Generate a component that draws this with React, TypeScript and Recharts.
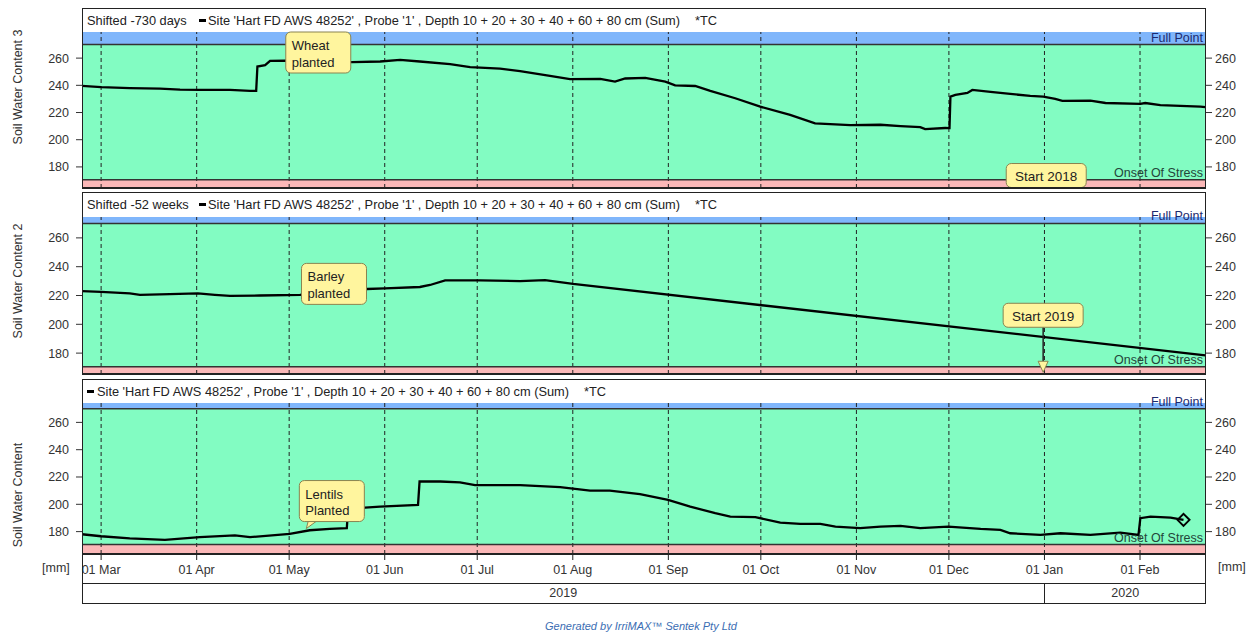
import React from "react";
import { LineChart, Line, XAxis, YAxis, ReferenceArea, ReferenceLine, ReferenceDot } from "recharts";

// days counted from 01 Mar 2019 (day 0)
const dayMin = -6.2;
const dayMax = 358.4;
const monthTicks = [0, 31, 61, 92, 122, 153, 184, 214, 245, 275, 306, 337];
const monthLabels = ["01 Mar", "01 Apr", "01 May", "01 Jun", "01 Jul", "01 Aug", "01 Sep", "01 Oct", "01 Nov", "01 Dec", "01 Jan", "01 Feb"];
const yearLabels = ["2019", "2020"];
const yearStart2020 = 306;
const yTicks = [180, 200, 220, 240, 260];
const fullPoint = 270;
const onsetStress = 170.5;

// Soil Water Content 3 (shifted -730 days)
const swc3Days = [-6.3, 0, 9.3, 19.1, 25.6, 32, 41.8, 48.3, 50.3, 50.7, 53.2, 54.8, 59.7, 81.4, 90.5, 97, 103.4, 113.2, 119.7, 129.4, 135.9, 145.6, 152.1, 161.9, 166.7, 170, 176.5, 183, 186.2, 192.7, 197.6, 205.7, 213.8, 223.5, 231.6, 243, 252.8, 259.3, 265.7, 267.3, 273.8, 275.2, 275.5, 277.1, 281, 282.6, 288.5, 294.9, 301.4, 305.6, 309.5, 311.8, 320.9, 325.8, 337.1, 338.7, 343.6, 356.6, 358.2];
const swc3Values = [239.6, 238.6, 237.9, 237.6, 236.8, 236.6, 236.6, 235.9, 235.9, 253.8, 254.8, 258, 258.2, 257, 257.5, 258.7, 257.5, 255.6, 253.4, 252.3, 250.4, 247, 244.5, 244.7, 242.7, 245, 245.5, 242.7, 240, 239.5, 235.9, 230.5, 224.3, 218.2, 212, 210.8, 211, 210, 209.3, 207.8, 208.6, 208.5, 231.7, 232.9, 234.4, 236.6, 235.1, 233.7, 232.2, 231.7, 230, 228.5, 228.7, 227, 226.3, 227, 225.5, 224.3, 224];

// Soil Water Content 2 (shifted -52 weeks)
const swc2Days = [-6.3, 0, 9.3, 12.6, 22.3, 31.4, 36.9, 41.8, 51.5, 64.5, 86.2, 92.1, 103.4, 106.7, 111.6, 122.9, 135.9, 144, 153.1, 358.2];
const swc2Values = [223, 222.5, 221.5, 220.5, 221, 221.5, 220.5, 219.7, 220, 220.5, 224.5, 225, 225.9, 227.3, 230.5, 230.5, 230, 230.7, 228, 178.5];

// Soil Water Content (current)
const swcDays = [-6.3, 0, 9.3, 20.7, 32, 43.4, 48.3, 61.2, 67.7, 74.2, 79.7, 80.1, 85.6, 90.5, 102.8, 103.3, 110, 116.4, 121.3, 135.9, 148.9, 158.6, 165, 174.8, 183.9, 191.1, 199.2, 204.1, 212.2, 220.3, 226.8, 233.3, 238.2, 246.2, 252.8, 259.3, 265.7, 274.8, 285.3, 291.7, 294.9, 304.7, 311.2, 320.9, 330.6, 336.5, 337.1, 340.4, 346.9, 351.1];
const swcValues = [178.1, 176.6, 175.1, 173.9, 175.9, 177.3, 175.9, 178.3, 181, 182, 182.5, 196, 197.6, 198.3, 199.6, 216.7, 216.7, 216, 214, 214, 212.6, 210, 210, 207.4, 203.3, 198.3, 193.5, 191, 190.6, 186.6, 185.6, 185.6, 183.6, 182.5, 183.7, 184.2, 182.5, 183.7, 182, 181.3, 178.8, 177.6, 178.8, 177.6, 179.3, 177.6, 189.8, 191, 190.3, 188.6];

const seriesName = "Site 'Hart FD AWS 48252' , Probe '1' , Depth 10 + 20 + 30 + 40 + 60 + 80 cm (Sum)";

const FONT = "'Liberation Sans', Arial, sans-serif";
const PLOT_LEFT = 82;
const PLOT_RIGHT = 1206;

const xOf = (d: number) => PLOT_LEFT + ((d - dayMin) / (dayMax - dayMin)) * (PLOT_RIGHT - PLOT_LEFT);

type CalloutSpec = { day: number; value: number; lines: string[]; kind: "two" | "one" | "arrow" | "pointer" };

function Callout({ cx, cy, spec }: { cx: number; cy: number; spec: CalloutSpec }) {
  const fill = "#fff59e";
  const stroke = "#8a8450";
  const two = spec.lines.length === 2;
  const w = two ? 65 : 80;
  const h = two ? 41 : 24;
  return (
    <g>
      {spec.kind === "arrow" && (
        <g>
          <line x1={cx + 40} y1={cy + h} x2={cx + 40} y2={cy + 58} stroke="#222" strokeWidth={1.5} />
          <polygon points={`${cx + 35},${cy + 58} ${cx + 45},${cy + 58} ${cx + 40},${cy + 69}`} fill={fill} stroke={stroke} />
        </g>
      )}
      {spec.kind === "pointer" && (
        <polygon points={`${cx + 9},${cy + h - 1} ${cx + 18},${cy + h - 1} ${cx + 7},${cy + 48}`} fill={fill} stroke={stroke} />
      )}
      <rect x={cx} y={cy} width={w} height={h} rx={5} ry={5} fill={fill} stroke={stroke} />
      {two
        ? spec.lines.map((t, i) => (
            <text key={i} x={cx + 6} y={cy + 13.5 + i * 16.6} dominantBaseline="central" fontSize={13} fill="#222" fontFamily={FONT}>
              {t}
            </text>
          ))
        : (
          <text x={cx + w / 2} y={cy + h / 2 + 1} textAnchor="middle" dominantBaseline="central" fontSize={13.5} fill="#222" fontFamily={FONT}>
            {spec.lines[0]}
          </text>
        )}
    </g>
  );
}

function Panel({
  days,
  values,
  yDomain,
  top,
  height,
  showXAxis,
  callouts,
  endMarker,
}: {
  days: number[];
  values: number[];
  yDomain: [number, number];
  top: number;
  height: number;
  showXAxis?: boolean;
  callouts: CalloutSpec[];
  endMarker?: boolean;
}) {
  const data = days.map((d, i) => ({ day: d, v: values[i] }));
  const last = data.length - 1;
  return (
    <div style={{ position: "absolute", left: 0, top, width: 1255, height }}>
      <LineChart width={1255} height={height} data={data} margin={{ top: 0, right: 0, bottom: 0, left: 0 }}>
        {showXAxis ? (
          <XAxis
            dataKey="day"
            type="number"
            domain={[dayMin, dayMax]}
            allowDataOverflow
            ticks={monthTicks}
            interval={0}
            tickFormatter={(v: number) => monthLabels[monthTicks.indexOf(v)]}
            height={height - 151}
            tickSize={6}
            tickMargin={5}
            axisLine={{ stroke: "#222", strokeWidth: 2 }}
            tickLine={{ stroke: "#222" }}
            tick={{ fontSize: 12.5, fill: "#333" }}
          />
        ) : (
          <XAxis dataKey="day" type="number" domain={[dayMin, dayMax]} allowDataOverflow hide />
        )}
        <YAxis
          yAxisId="l"
          orientation="left"
          width={PLOT_LEFT}
          domain={yDomain}
          allowDataOverflow
          ticks={yTicks}
          interval={0}
          tickSize={6}
          tickMargin={7}
          axisLine={false}
          tickLine={{ stroke: "#333" }}
          tick={{ fontSize: 12.5, fill: "#333" }}
        />
        <YAxis
          yAxisId="r"
          orientation="right"
          width={1255 - PLOT_RIGHT}
          domain={yDomain}
          allowDataOverflow
          ticks={yTicks}
          interval={0}
          tickSize={6}
          tickMargin={3}
          axisLine={false}
          tickLine={{ stroke: "#333" }}
          tick={{ fontSize: 12.5, fill: "#333" }}
        />
        <ReferenceArea yAxisId="l" y1={fullPoint} y2={yDomain[1]} fill="#80b6fb" fillOpacity={1} stroke="none" />
        <ReferenceArea yAxisId="l" y1={onsetStress} y2={fullPoint} fill="#82fcc2" fillOpacity={1} stroke="none" />
        <ReferenceArea yAxisId="l" y1={yDomain[0]} y2={onsetStress} fill="#fbb8b8" fillOpacity={1} stroke="none" />
        {monthTicks.map((t) => (
          <ReferenceLine key={t} yAxisId="l" x={t} stroke="#222" strokeDasharray="4 3" />
        ))}
        <ReferenceLine
          yAxisId="l"
          y={fullPoint}
          stroke="#333"
          strokeWidth={1.5}
          label={{ value: "Full Point", position: "insideBottomRight", offset: 3, fill: "#1c2a6e", fontSize: 12.5 }}
        />
        <ReferenceLine
          yAxisId="l"
          y={onsetStress}
          stroke="#333"
          strokeWidth={1.5}
          label={{ value: "Onset Of Stress", position: "insideBottomRight", offset: 3, fill: "#24463a", fontSize: 12.5 }}
        />
        <Line
          yAxisId="l"
          type="linear"
          dataKey="v"
          stroke="#000"
          strokeWidth={2.3}
          isAnimationActive={false}
          dot={(p: any) =>
            endMarker && p.index === last ? (
              <polygon
                key="end"
                points={`${p.cx - 6},${p.cy} ${p.cx},${p.cy - 6} ${p.cx + 6},${p.cy} ${p.cx},${p.cy + 6}`}
                fill="none"
                stroke="#000"
                strokeWidth={2}
              />
            ) : (
              <g key={p.index} />
            )
          }
          activeDot={false}
        />
        {callouts.map((c, i) => (
          <ReferenceDot
            key={i}
            yAxisId="l"
            x={c.day}
            y={c.value}
            r={0}
            ifOverflow="visible"
            shape={(p: any) => <Callout cx={p.cx} cy={p.cy} spec={c} />}
          />
        ))}
      </LineChart>
    </div>
  );
}

function Header({ top, prefix, markerLeft, textLeft }: { top: number; prefix?: string; markerLeft: number; textLeft: number }) {
  return (
    <div style={{ position: "absolute", left: PLOT_LEFT, top, width: PLOT_RIGHT - PLOT_LEFT, height: 24, background: "#fff", fontSize: 12.8, color: "#222" }}>
      {prefix && <span style={{ position: "absolute", left: 87 - PLOT_LEFT, top: 5, whiteSpace: "nowrap" }}>{prefix}</span>}
      <span style={{ position: "absolute", left: markerLeft - PLOT_LEFT, top: 11, width: 7, height: 3, background: "#000" }} />
      <span style={{ position: "absolute", left: textLeft - PLOT_LEFT, top: 5, whiteSpace: "nowrap" }}>
        {seriesName}
        <span style={{ marginLeft: 15 }}>*TC</span>
      </span>
    </div>
  );
}

function SideLabel({ text, y }: { text: string; y: number }) {
  return (
    <div style={{ position: "absolute", left: 18, top: y, transform: "translate(-50%, -50%) rotate(-90deg)", whiteSpace: "nowrap", fontSize: 12.5, color: "#333" }}>
      {text}
    </div>
  );
}

const box = (top: number, height: number, extra?: React.CSSProperties): React.CSSProperties => ({
  position: "absolute",
  left: PLOT_LEFT,
  top,
  width: PLOT_RIGHT - PLOT_LEFT,
  height,
  border: "1px solid #222",
  boxSizing: "border-box",
  pointerEvents: "none",
  ...extra,
});

export default function App() {
  const wheat: CalloutSpec[] = [
    { day: 59.9, value: 279.2, lines: ["Wheat", "planted"], kind: "two" },
    { day: 293.6, value: 182.5, lines: ["Start 2018"], kind: "one" },
  ];
  const barley: CalloutSpec[] = [
    { day: 65.0, value: 242.3, lines: ["Barley", "planted"], kind: "two" },
    { day: 292.6, value: 214.6, lines: ["Start 2019"], kind: "arrow" },
  ];
  const lentils: CalloutSpec[] = [{ day: 64.3, value: 217.4, lines: ["Lentils", "Planted"], kind: "pointer" }];
  const janX = xOf(yearStart2020);

  return (
    <div style={{ position: "absolute", left: 0, top: 0, width: 1255, height: 634, background: "#fff", fontFamily: FONT, overflow: "hidden" }}>
      <style>{`.recharts-surface{overflow:visible}`}</style>

      <Header top={8} prefix="Shifted -730 days" markerLeft={199} textLeft={208} />
      <Header top={192} prefix="Shifted -52 weeks" markerLeft={199} textLeft={208} />
      <Header top={379} markerLeft={87} textLeft={97} />

      <Panel days={swc3Days} values={swc3Values} yDomain={[164.5, 279.2]} top={32} height={156} callouts={wheat} />
      <Panel days={swc2Days} values={swc2Values} yDomain={[165.5, 274.5]} top={217} height={157} callouts={barley} />
      <Panel days={swcDays} values={swcValues} yDomain={[163.6, 274.2]} top={403} height={180} showXAxis callouts={lentils} endMarker />

      <div style={box(8, 181, { borderBottom: "2px solid #222" })} />
      <div style={box(192, 183, { borderBottom: "2px solid #222" })} />
      <div style={box(379, 225)} />
      <div style={{ position: "absolute", left: PLOT_LEFT, top: 583, width: PLOT_RIGHT - PLOT_LEFT, height: 1, background: "#222" }} />
      <div style={{ position: "absolute", left: janX, top: 583, width: 1, height: 20, background: "#222" }} />
      <div style={{ position: "absolute", left: (PLOT_LEFT + janX) / 2, top: 593, transform: "translate(-50%, -50%)", fontSize: 12.5, color: "#333" }}>
        {yearLabels[0]}
      </div>
      <div style={{ position: "absolute", left: (janX + PLOT_RIGHT) / 2, top: 593, transform: "translate(-50%, -50%)", fontSize: 12.5, color: "#333" }}>
        {yearLabels[1]}
      </div>

      <SideLabel text="Soil Water Content 3" y={87} />
      <SideLabel text="Soil Water Content 2" y={281} />
      <SideLabel text="Soil Water Content" y={495} />

      <div style={{ position: "absolute", left: 42, top: 561, fontSize: 12.5, color: "#333" }}>[mm]</div>
      <div style={{ position: "absolute", left: 1218, top: 560, fontSize: 12.5, color: "#333" }}>[mm]</div>

      <div style={{ position: "absolute", left: 641, top: 626, transform: "translate(-50%, -50%)", fontSize: 11, fontStyle: "italic", color: "#3b6db3", whiteSpace: "nowrap" }}>
        Generated by IrriMAX™ Sentek Pty Ltd
      </div>
    </div>
  );
}
